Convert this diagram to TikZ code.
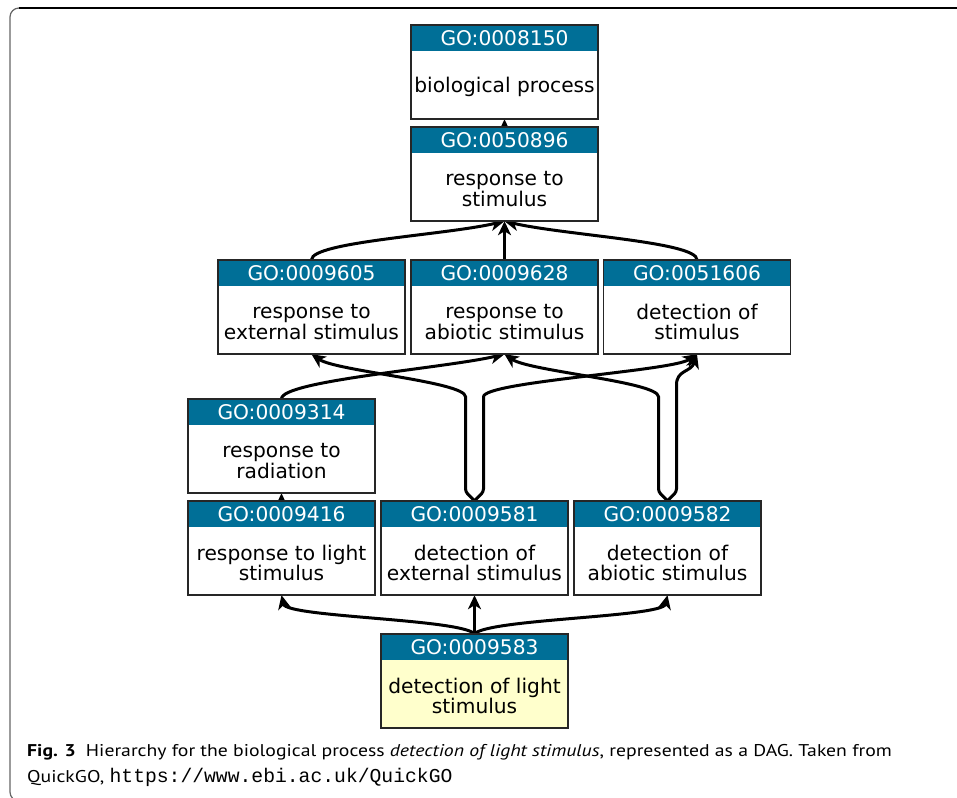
\documentclass[tikz,border=0pt]{standalone}
\usepackage{fontspec}
\setmainfont{DejaVu Sans}
\newfontfamily\capfont[FakeStretch=1.16]{PT Sans}
\newfontfamily\capmono{Liberation Mono}
\usetikzlibrary{arrows.meta}
\definecolor{goheadc}{RGB}{0,111,151}
\definecolor{goyellow}{RGB}{255,255,204}
\pgfdeclarelayer{bg}
\pgfsetlayers{bg,main}
\tikzset{
  gobody/.style={rectangle, minimum width=187pt, minimum height=94pt, inner sep=0pt},
  goheadbox/.style={rectangle, minimum width=187pt, minimum height=26pt, inner sep=0pt,
    fill=goheadc, text=white, font=\fontsize{20.2}{21}\selectfont, anchor=north},
  golabel/.style={align=center, font=\fontsize{20.2}{20.2}\selectfont, inner sep=0pt},
  boxline/.style={draw=black!85, line width=1.5pt},
  edge/.style={draw=black, line width=3pt, rounded corners=3pt,
    -{Stealth[length=14pt,width=13pt,inset=4pt]}},
  captext/.style={anchor=base west, inner sep=0pt, font=\capfont\fontsize{17}{20}\selectfont},
}
\newcommand\gobox[6]{%
  \node[gobody,fill=#6] (#1) at (#2,#3) {};
  \node[goheadbox] (#1h) at (#1.north) {#4};
  \node[golabel] (#1t) at ([yshift=-15pt]#1.center) {#5};
  \draw[boxline] (#1.north west) rectangle (#1.south east);
}
\begin{document}
\begin{tikzpicture}[x=1pt,y=-1pt]
\useasboundingbox (0,0) rectangle (957,797);
% frame
\begin{scope}
  \clip (0,0) rectangle (957,797);
  \draw[line width=1.2pt, black!60, rounded corners=9pt] (30,801) -- (10,801) -- (10,8) -- (30,8);
  \draw[line width=1.8pt, black] (19,8) -- (970,8);
\end{scope}
% nodes
\gobox{n8150}{504.5}{72}{GO:0008150}{biological process}{white}
\gobox{n50896}{504.5}{174}{GO:0050896}{response to\\stimulus}{white}
\gobox{n9605}{311.5}{307}{GO:0009605}{response to\\external stimulus}{white}
\gobox{n9628}{504.5}{307}{GO:0009628}{response to\\abiotic stimulus}{white}
\gobox{n51606}{697}{307}{GO:0051606}{detection of\\stimulus}{white}
\gobox{n9314}{281.5}{446}{GO:0009314}{response to\\radiation}{white}
\gobox{n9416}{281.5}{548}{GO:0009416}{response to light\\stimulus}{white}
\gobox{n9581}{474.5}{548}{GO:0009581}{detection of\\external stimulus}{white}
\gobox{n9582}{667.5}{548}{GO:0009582}{detection of\\abiotic stimulus}{white}
\gobox{n9583}{474.5}{681}{GO:0009583}{detection of light\\stimulus}{goyellow}
% edges
\begin{pgfonlayer}{bg}
  \fill[white] (0,0) rectangle (957,797);
  \draw[edge] (n50896.north) -- (n8150.south);
  \draw[edge] (n9605.north) .. controls +(0,-18) and +(-60,14) .. (n50896.south);
  \draw[edge] (n9628.north) -- (n50896.south);
  \draw[edge] (n51606.north) .. controls +(0,-18) and +(60,14) .. (n50896.south);
  \draw[edge] (n9314.north) .. controls +(0,-18) and +(-60,14) .. (n9628.south);
  \draw[edge] (n9581.north) -- ++(-9,-9) -- ++(0,-92) .. controls +(0,-18) and +(25,17) .. (n9605.south);
  \draw[edge] (n9581.north) -- ++(9,-9) -- ++(0,-92) .. controls +(0,-18) and +(-25,17) .. (n51606.south);
  \draw[edge] (n9582.north) -- ++(-9,-9) -- ++(0,-92) .. controls +(0,-18) and +(25,17) .. (n9628.south);
  \draw[edge] (n9582.north) -- ++(9,-9) -- ++(0,-104) .. controls +(0,-18) and +(-6,18) .. (n51606.south);
  \draw[edge] (n9416.north) -- (n9314.south);
  \draw[edge] (n9583.north) .. controls +(-15,-15) and +(5,22) .. (n9416.south);
  \draw[edge] (n9583.north) -- (n9581.south);
  \draw[edge] (n9583.north) .. controls +(15,-15) and +(-5,22) .. (n9582.south);
\end{pgfonlayer}
% caption
\node[captext] (cap1) at (27,756) {\textbf{Fig. 3}\hspace{0.6em}Hierarchy for the biological process \textit{detection of light stimulus}, represented as a DAG. Taken from};
\node[captext] (cap2) at (27,782) {QuickGO, {\capmono\fontsize{19.7}{20}\selectfont https://www.ebi.ac.uk/QuickGO}};
\end{tikzpicture}
\end{document}
